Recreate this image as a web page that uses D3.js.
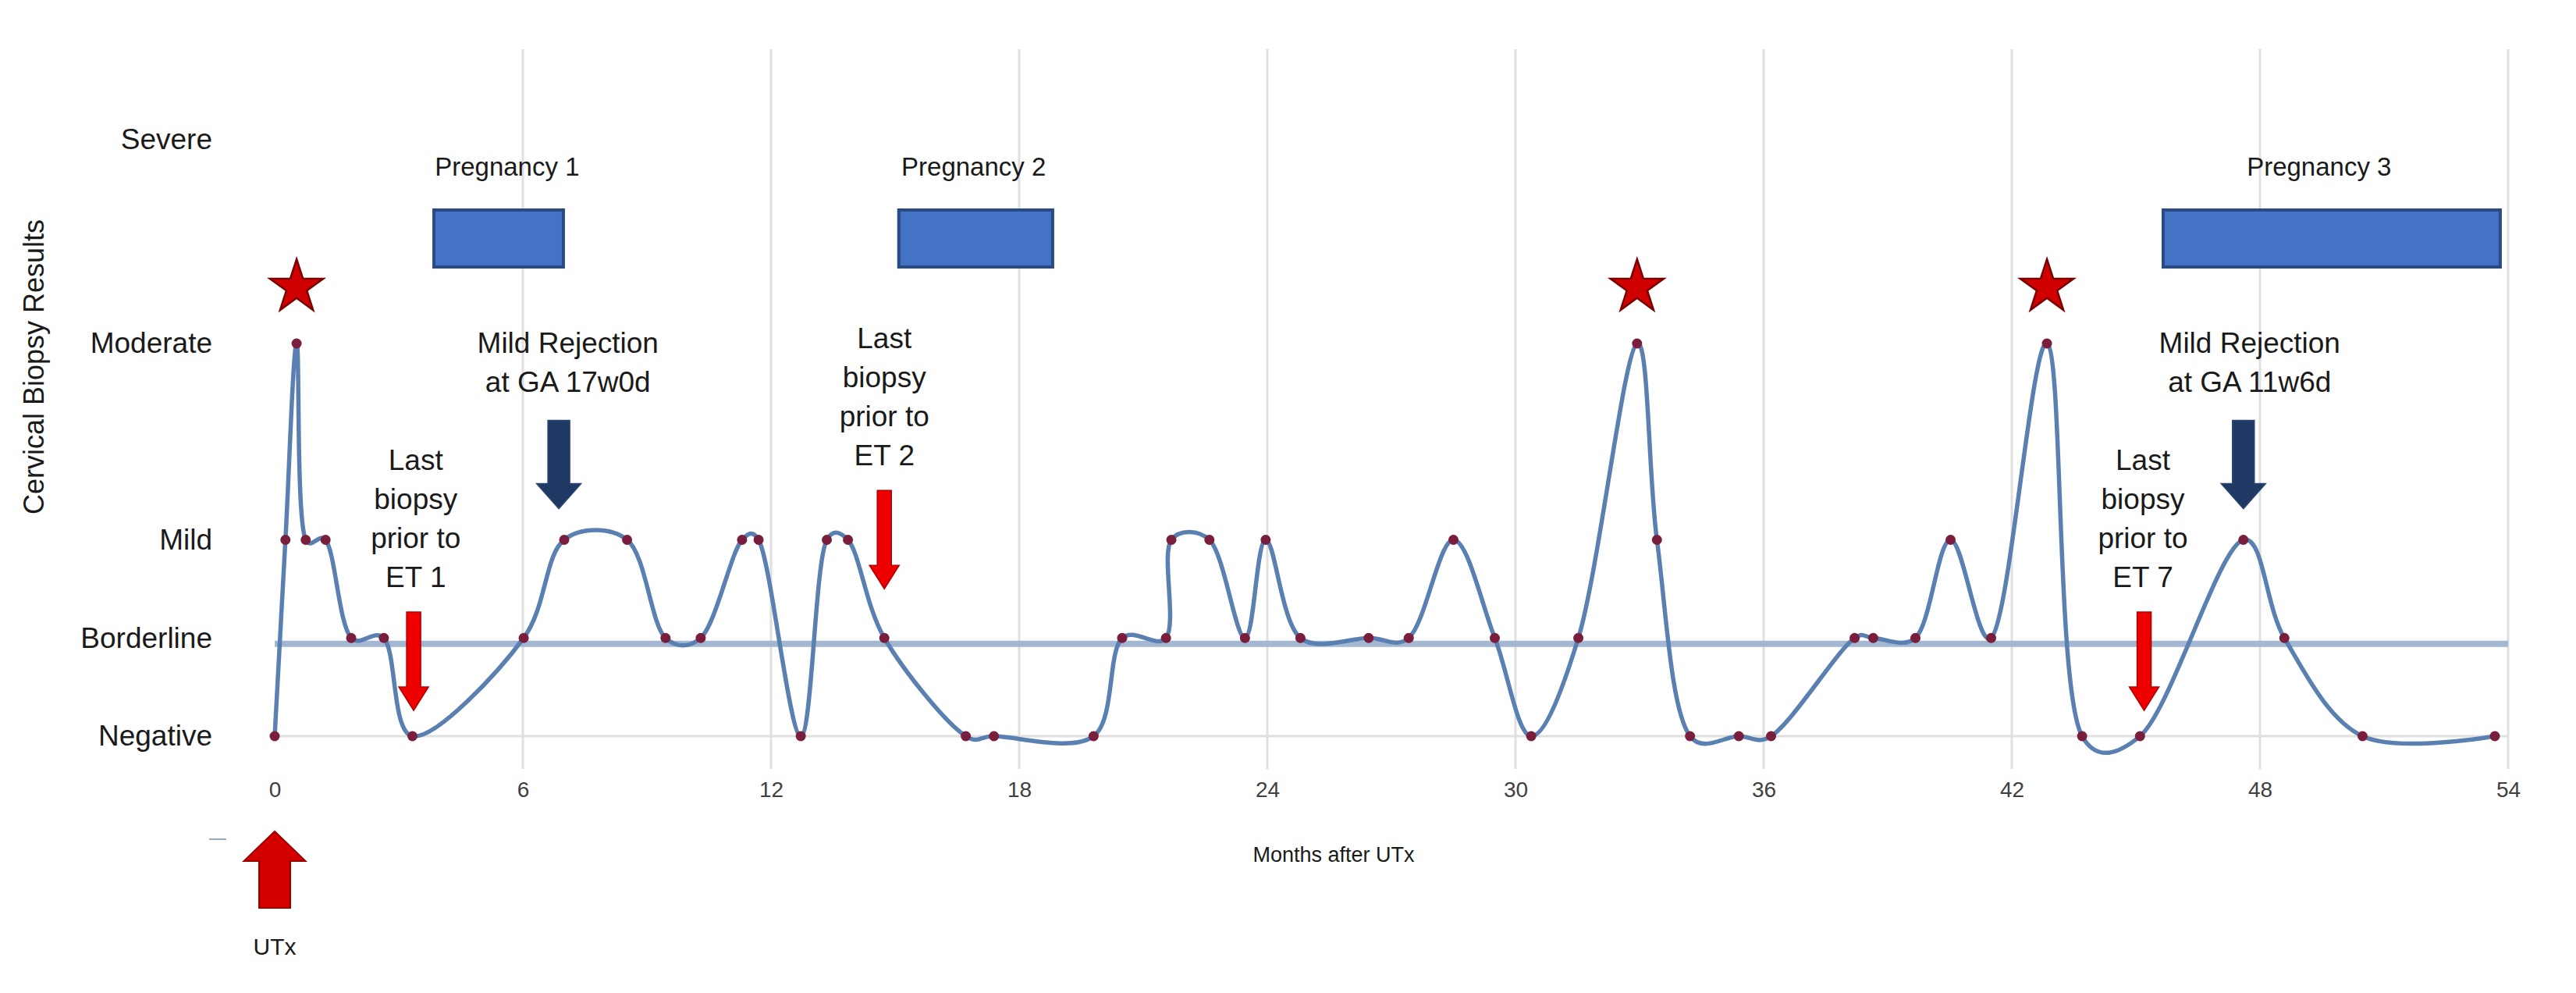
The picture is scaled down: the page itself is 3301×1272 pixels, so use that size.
<!DOCTYPE html>
<html>
<head>
<meta charset="utf-8">
<script src="https://d3js.org/d3.v7.min.js"></script>
<style>
body { margin: 0; background: #fff; }
svg text { font-family: "Liberation Sans", Arial, sans-serif; fill: #1a1a1a; }
</style>
</head>
<body>
<div id="chart"></div>
<script>
var width = 3301;
var height = 1272;

// biopsy results: months after UTx and grade (0 neg, 1 borderline, 2 mild, 4 moderate)
var months = [0, 0.26, 0.53, 0.75, 1.23, 1.85, 2.64, 3.33, 6.02, 7.0, 8.52, 9.45, 10.3, 11.3, 11.7,
	12.72, 13.35, 13.86, 14.74, 16.71, 17.39, 19.8, 20.49, 21.55, 21.68, 22.6, 23.46, 23.96, 24.8,
	26.45, 27.42, 28.5, 29.5, 30.38, 31.52, 32.94, 33.42, 34.22, 35.4, 36.18, 38.2, 38.65, 39.67,
	40.52, 41.5, 42.85, 43.7, 45.1, 47.6, 48.59, 50.48, 53.68];
var grades = [0, 2, 4, 2, 2, 1, 1, 0, 1, 2, 2, 1, 1, 2, 2,
	0, 2, 2, 1, 0, 0, 0, 1, 1, 2, 2, 1, 2, 1,
	1, 1, 2, 1, 0, 1, 4, 2, 0, 0, 0, 1, 1, 1,
	2, 1, 4, 0, 0, 2, 1, 0, 0];

var gradeTicks = [0, 1, 2, 4, 6];
var gradeNames = ["Negative", "Borderline", "Mild", "Moderate", "Severe"];
var monthTicks = [0, 6, 12, 18, 24, 30, 36, 42, 48, 54];
var borderlineRef = 0.94;

var pregNames = ["Pregnancy 1", "Pregnancy 2", "Pregnancy 3"];
var pregStart = [3.85, 15.09, 45.66];
var pregEnd = [6.98, 18.81, 53.81];
var pregLabelAt = [5.62, 16.9, 49.43];

// last biopsy before embryo transfer
var etNames = ["ET 1", "ET 2", "ET 7"];
var etMonths = [3.36, 14.74, 45.2];
var etTargets = [0, 1, 0];
var etLabelAt = [3.41, 14.74, 45.17];

var rejGA = ["17w0d", "11w6d"];
var rejMonths = [6.87, 47.6];
var rejLabelAt = [7.09, 47.75];

var x = d3.scaleLinear().domain([0, 54]).range([352, 3214]);
var y = d3.scaleLinear().domain([0, 6]).range([943, 188.5]);

var svg = d3.select("#chart").append("svg")
	.attr("width", width)
	.attr("height", height)
	.style("background", "#fff");

// vertical gridlines
svg.append("g").selectAll("line")
	.data(monthTicks.slice(1))
	.enter().append("line")
	.attr("x1", function(d) { return x(d); })
	.attr("x2", function(d) { return x(d); })
	.attr("y1", 63)
	.attr("y2", 985)
	.attr("stroke", "#e0e0e0")
	.attr("stroke-width", 3);

svg.append("line")
	.attr("x1", x(0)).attr("x2", x(54))
	.attr("y1", y(0)).attr("y2", y(0))
	.attr("stroke", "#e0e0e0")
	.attr("stroke-width", 3);

// borderline reference band
svg.append("line")
	.attr("x1", x(0)).attr("x2", x(54))
	.attr("y1", y(borderlineRef)).attr("y2", y(borderlineRef))
	.attr("stroke", "#a3b7d2")
	.attr("stroke-width", 8);

// axes
var xAxis = svg.append("g")
	.attr("transform", "translate(0," + y(0) + ")")
	.call(d3.axisBottom(x).tickValues(monthTicks).tickSize(0).tickPadding(58));
xAxis.select(".domain").remove();
xAxis.selectAll("text")
	.style("font-size", "28px")
	.style("fill", "#404040");

var yAxis = svg.append("g")
	.attr("transform", "translate(" + x(0) + ",0)")
	.call(d3.axisLeft(y).tickValues(gradeTicks).tickSize(0).tickPadding(80)
		.tickFormat(function(d, i) { return gradeNames[i]; }));
yAxis.select(".domain").remove();
yAxis.selectAll("text")
	.style("font-size", "37px")
	.style("fill", "#1a1a1a");
// "Severe" sits a little higher than its level
yAxis.selectAll(".tick").filter(function(d) { return d == 6; })
	.select("text").attr("y", -10);

svg.append("text")
	.attr("transform", "translate(43,470) rotate(-90)")
	.attr("text-anchor", "middle")
	.attr("dominant-baseline", "central")
	.style("font-size", "36px")
	.text("Cervical Biopsy Results");

svg.append("text")
	.attr("x", 1709)
	.attr("y", 1095)
	.attr("text-anchor", "middle")
	.attr("dominant-baseline", "central")
	.style("font-size", "27px")
	.text("Months after UTx");

// biopsy line
var pts = months.map(function(m, i) { return [m, grades[i]]; });
var line = d3.line()
	.x(function(d) { return x(d[0]); })
	.y(function(d) { return y(d[1]); })
	.curve(d3.curveCatmullRom.alpha(0.3));

svg.append("path")
	.datum(pts)
	.attr("d", line)
	.attr("fill", "none")
	.attr("stroke", "#5a80b2")
	.attr("stroke-width", 5.5)
	.attr("stroke-linejoin", "round");

svg.append("g").selectAll("circle")
	.data(pts)
	.enter().append("circle")
	.attr("cx", function(d) { return x(d[0]); })
	.attr("cy", function(d) { return y(d[1]); })
	.attr("r", 6.5)
	.attr("fill", "#7a1e3e");

// stars over moderate results
var star = d3.symbol().type(d3.symbolStar).size(1455);
svg.append("g").selectAll("path")
	.data(pts.filter(function(d) { return d[1] == 4; }))
	.enter().append("path")
	.attr("d", star)
	.attr("transform", function(d) { return "translate(" + x(d[0]) + "," + (y(d[1]) - 72) + ")"; })
	.attr("fill", "#d00000")
	.attr("stroke", "#7a0000")
	.attr("stroke-width", 2.5);

// pregnancy boxes
svg.append("g").selectAll("rect")
	.data(pregNames)
	.enter().append("rect")
	.attr("x", function(d, i) { return x(pregStart[i]); })
	.attr("width", function(d, i) { return x(pregEnd[i]) - x(pregStart[i]); })
	.attr("y", 269)
	.attr("height", 73)
	.attr("fill", "#4472c4")
	.attr("stroke", "#2a4a82")
	.attr("stroke-width", 4);

svg.append("g").selectAll("text")
	.data(pregNames)
	.enter().append("text")
	.attr("x", function(d, i) { return x(pregLabelAt[i]); })
	.attr("y", 213)
	.attr("text-anchor", "middle")
	.attr("dominant-baseline", "central")
	.style("font-size", "33px")
	.text(function(d) { return d; });

function arrowPath(cx, yTop, yTip, shaftW, headW, headL) {
	var dir = yTip > yTop ? 1 : -1;
	var yNeck = yTip - dir * headL;
	return "M" + (cx - shaftW / 2) + "," + yTop +
		"L" + (cx + shaftW / 2) + "," + yTop +
		"L" + (cx + shaftW / 2) + "," + yNeck +
		"L" + (cx + headW / 2) + "," + yNeck +
		"L" + cx + "," + yTip +
		"L" + (cx - headW / 2) + "," + yNeck +
		"L" + (cx - shaftW / 2) + "," + yNeck + "Z";
}

function textBlock(cx, yLast, lines) {
	var g = svg.append("g");
	lines.forEach(function(t, i) {
		g.append("text")
			.attr("x", cx)
			.attr("y", yLast - (lines.length - 1 - i) * 50)
			.attr("text-anchor", "middle")
			.attr("dominant-baseline", "central")
			.style("font-size", "37px")
			.text(t);
	});
}

// ET annotations: red arrows
var etGap = [33, 63, 33];
etNames.forEach(function(name, i) {
	var tip = y(etTargets[i]) - etGap[i];
	var top = tip - 126;
	svg.append("path")
		.attr("d", arrowPath(x(etMonths[i]), top, tip, 18, 38, 30))
		.attr("fill", "#ee0000")
		.attr("stroke", "#b00000")
		.attr("stroke-width", 1.5);
	textBlock(x(etLabelAt[i]), top - 45, ["Last", "biopsy", "prior to", name]);
});

// rejection annotations: navy arrows
rejGA.forEach(function(ga, i) {
	var tip = y(2) - 40;
	var top = tip - 113;
	svg.append("path")
		.attr("d", arrowPath(x(rejMonths[i]), top, tip, 28, 57, 32))
		.attr("fill", "#1f3864")
		.attr("stroke", "#2b4470")
		.attr("stroke-width", 1.5);
	textBlock(x(rejLabelAt[i]), top - 49, ["Mild Rejection", "at GA " + ga]);
});

// UTx arrow below the axis
svg.append("path")
	.attr("d", arrowPath(x(0), 1163, 1065, 40, 79, 38))
	.attr("fill", "#d40000")
	.attr("stroke", "#9a0000")
	.attr("stroke-width", 2);

svg.append("line")
	.attr("x1", 268).attr("x2", 290)
	.attr("y1", 1075).attr("y2", 1075)
	.attr("stroke", "#9aaac4")
	.attr("stroke-width", 2);

svg.append("text")
	.attr("x", x(0))
	.attr("y", 1212)
	.attr("text-anchor", "middle")
	.attr("dominant-baseline", "central")
	.style("font-size", "30px")
	.text("UTx");
</script>
</body>
</html>
